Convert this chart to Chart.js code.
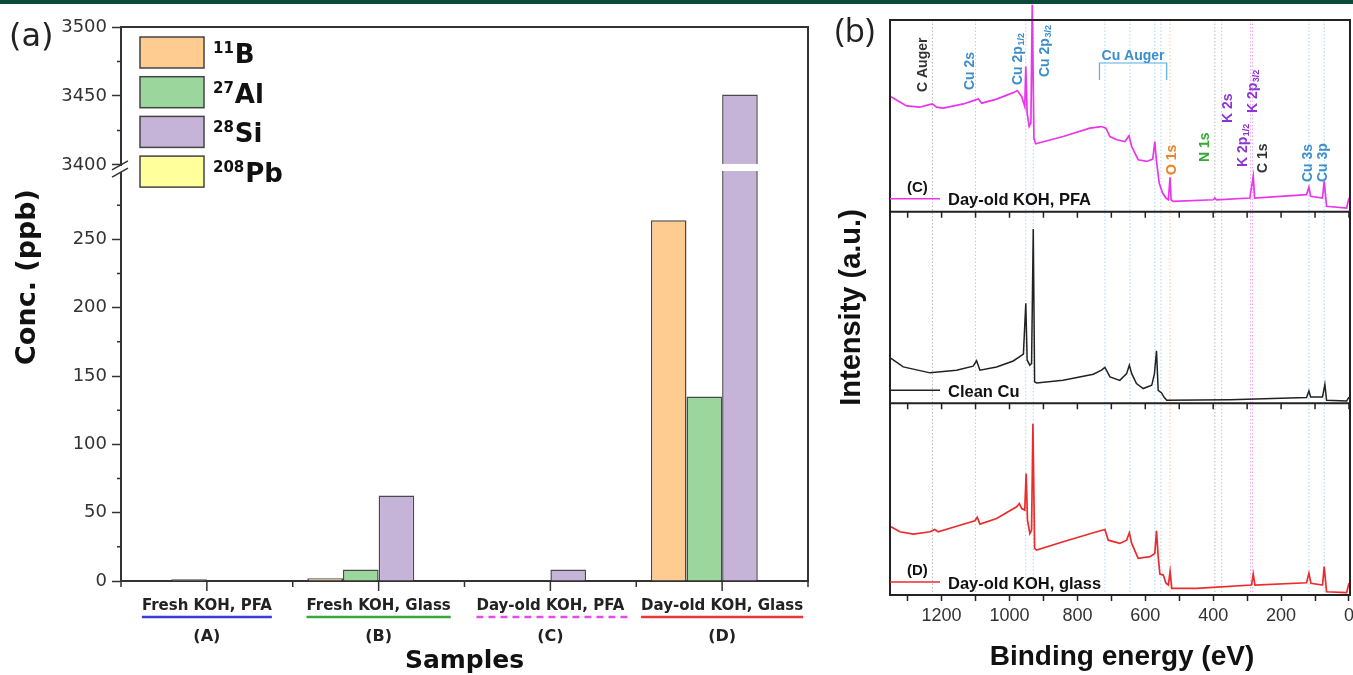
<!DOCTYPE html>
<html>
<head>
<meta charset="utf-8">
<script src="https://cdn.jsdelivr.net/npm/chart.js@4.4.1/dist/chart.umd.min.js"></script>
<style>
  html, body { margin: 0; padding: 0; background: #fff; }
  body { width: 1353px; height: 675px; position: relative; overflow: hidden; }
  #topbar { position: absolute; left: 0; top: 0; width: 1353px; height: 4px; background: #0b4a3a; }
  #panelA { position: absolute; left: 0; top: 0; }
  #panelB { position: absolute; left: 830px; top: 0; }
</style>
</head>
<body>
<canvas id="panelA" width="830" height="675"></canvas>
<canvas id="panelB" width="523" height="675"></canvas>
<div id="topbar"></div>
<script>
// ---- panel (a): ICP-MS concentrations ----
const samples = ["Fresh KOH, PFA", "Fresh KOH, Glass", "Day-old KOH, PFA", "Day-old KOH, Glass"];
const sampleCodes = ["(A)", "(B)", "(C)", "(D)"];
const isotopeMass = ["11", "27", "28", "208"];
const isotopeSymbol = ["B", "Al", "Si", "Pb"];
const boron11 = [0, 2, 0, 264];
const aluminium27 = [1.2, 8.5, 0.5, 135];
const silicon28 = [0, 62.5, 8.5, 3451];
const lead208 = [0, 0, 0, 0];
const concTicksMajor = [0, 50, 100, 150, 200, 250, 3400, 3450, 3500];
const concTicksMinor = [25, 75, 125, 175, 225, 275, 3425, 3475];

// ---- panel (b): XPS survey spectra ----
const energyC = [1349,1303,1264,1239,1227,1215,1195,1136,1100,1092,1082,1038,989,977,964,955,952,948,942,937,933,928,923,842,763,729,716,704,684,660,648,640,621,596,578,572,567,559,549,539,532,527,524,518,400,395,390,292,282,278,125,118,113,78,73,66,7,0];
const intensityC = [60.0,55.2,54.5,55.7,56.2,54.5,54.0,56.2,58.3,58.9,56.6,58.7,62.1,63.2,60.0,54.8,75.7,51.4,44.4,46.2,108,38.4,35.4,39.2,43.6,44.4,43.6,39.2,37.5,36.6,39.6,34.0,27.1,26.2,27.4,36.6,26.2,14.9,9.7,7.1,6.2,17.9,6.2,5.4,6.2,7.1,6.2,7.1,18.4,7.1,8.9,12.8,8.0,7.1,15.8,2.8,1.9,7.1];
const energyCu = [1349,1313,1234,1156,1107,1097,1087,1038,989,959,952,948,940,935,930,926,920,842,753,729,719,704,675,655,647,640,626,606,581,573,567,562,552,545,537,351,125,118,113,78,71,66,7,0];
const intensityCu = [23.4,19.0,15.9,17.3,19.4,22.2,17.3,19.0,22.1,25.7,52.2,22.5,19.9,20.8,90.9,11.2,10.6,12.0,15.2,17.3,18.7,13.8,12.0,15.5,19.9,15.5,10.3,7.7,9.4,15.5,27.4,6.8,5.4,3.3,1.6,1.9,3.0,6.5,3.3,3.3,9.9,1.6,1.2,3.3];
const energyD = [1349,1323,1283,1234,1220,1210,1156,1102,1095,1087,1038,979,971,964,955,951,947,940,935,931,926,920,842,753,719,709,675,655,647,640,621,586,572,567,562,557,547,539,532,527,522,449,287,282,277,125,118,112,78,73,66,7,0];
const intensityD = [35.6,33.0,31.8,33.0,34.2,33.0,35.9,38.7,40.5,37.0,39.9,46.0,47.7,45.1,44.3,63.4,39.1,32.1,33.9,89.4,24.3,23.4,27.8,32.5,34.2,28.6,26.9,28.6,32.5,26.9,19.1,20.0,21.7,33.5,20.0,10.9,10.4,6.1,5.2,12.2,3.5,3.5,5.2,10.9,5.2,6.4,11.3,6.1,5.2,14.8,1.7,1.2,6.1];
const energyTicks = [0,100,200,300,400,500,600,700,800,900,1000,1100,1200,1300];
const refLineEnergy = [1227,1100,952,930,719,645,572,554,527,395,375,290,284,118,73];
const peakText = ["C Auger", "Cu 2s", "Cu 2p", "Cu 2p", "O 1s", "N 1s", "K 2s", "K 2p", "K 2p", "C 1s", "Cu 3s", "Cu 3p"];
const peakSub = ["", "", "1/2", "3/2", "", "", "", "1/2", "3/2", "", "", ""];
const peakEnergy = [1255, 1117, 975, 896, 521, 424, 357, 312, 283, 253, 121, 77];
const augerRange = [735, 537];

// styles / layout
const isoColors = ["#fecb90", "#9bd79c", "#c6b3d8", "#ffff9c"];
const underlineColors = ["#3a3ad8", "#3aa83a", "#e84ce8", "#e83838"];
const refLineColors = ["#b8b8b8","#a9d6f2","#a9d6f2","#a9d6f2","#a9d6f2","#a9d6f2","#a9d6f2","#a9d6f2","#f6c59c","#b8b8b8","#b8cde0","#f2a6f2","#f2a6f2","#a9d6f2","#a9d6f2"];
const peakColors = ["#333","#3d8fcc","#3d8fcc","#3d8fcc","#e8842a","#35a835","#8b35d6","#8b35d6","#8b35d6","#333","#3d8fcc","#3d8fcc"];
const peakBottom = [92, 90, 85, 77, 175, 162, 123, 167, 113, 173, 182, 182];

const BREAK_LOW = 300, BREAK_HIGH = 3400;
const LOW_FRAC = 0.740, HIGH_FRAC = 0.249;

class BrokenLinearScale extends Chart.LinearScale {
  getPixelForValue(value) {
    const top = this.top, bottom = this.bottom, h = bottom - top;
    const lowTop = bottom - LOW_FRAC * h;
    const highBottom = top + HIGH_FRAC * h;
    if (value <= BREAK_LOW) return bottom - (value / BREAK_LOW) * (bottom - lowTop);
    if (value >= BREAK_HIGH) return highBottom - (value - BREAK_HIGH) / (this.max - BREAK_HIGH) * (highBottom - top);
    return lowTop - (value - BREAK_LOW) / (BREAK_HIGH - BREAK_LOW) * (lowTop - highBottom);
  }
  getValueForPixel(pixel) {
    const top = this.top, bottom = this.bottom, h = bottom - top;
    const lowTop = bottom - LOW_FRAC * h;
    const highBottom = top + HIGH_FRAC * h;
    if (pixel >= lowTop) return (bottom - pixel) / (bottom - lowTop) * BREAK_LOW;
    if (pixel <= highBottom) return BREAK_HIGH + (highBottom - pixel) / (highBottom - top) * (this.max - BREAK_HIGH);
    return BREAK_LOW + (lowTop - pixel) / (lowTop - highBottom) * (BREAK_HIGH - BREAK_LOW);
  }
}
BrokenLinearScale.id = 'brokenLinear';
BrokenLinearScale.defaults = Chart.LinearScale.defaults;
Chart.register(BrokenLinearScale);

const panelAPlugin = {
  id: 'panelADecor',
  afterDraw(chart) {
    const { ctx, chartArea: a, scales: { x, y } } = chart;
    const yHi = y.getPixelForValue(BREAK_HIGH), yLo = y.getPixelForValue(BREAK_LOW);
    ctx.save();
    // break band across the tall bar and the axis
    ctx.fillStyle = '#fff';
    ctx.fillRect(a.left + 2, yHi - 1, a.right - a.left - 4, yLo - yHi + 1);
    ctx.fillRect(a.left - 3, yHi + 1, 6, yLo - yHi);
    ctx.strokeStyle = '#333';
    ctx.lineWidth = 1.5;
    ctx.beginPath();
    ctx.moveTo(a.left - 9, yHi + 5); ctx.lineTo(a.left + 7, yHi - 4);
    ctx.moveTo(a.left - 9, yLo + 6); ctx.lineTo(a.left + 7, yLo - 3);
    ctx.stroke();
    // minor y ticks
    ctx.beginPath();
    concTicksMinor.forEach(v => {
      const py = y.getPixelForValue(v);
      ctx.moveTo(a.left - 4, py); ctx.lineTo(a.left, py);
    });
    ctx.stroke();
    // frame top / right
    ctx.lineWidth = 2;
    ctx.beginPath();
    ctx.moveTo(a.left, a.top); ctx.lineTo(a.right, a.top); ctx.lineTo(a.right, a.bottom);
    ctx.stroke();
    // x ticks: long at centres, short at boundaries
    ctx.lineWidth = 1.5;
    ctx.beginPath();
    const step = (a.right - a.left) / samples.length;
    samples.forEach((s, i) => {
      const cx = x.getPixelForValue(i);
      ctx.moveTo(cx, a.bottom); ctx.lineTo(cx, a.bottom + 10);
    });
    for (let i = 0; i <= samples.length; i++) {
      const bx = a.left + i * step;
      ctx.moveTo(bx, a.bottom); ctx.lineTo(bx, a.bottom + 6);
    }
    ctx.stroke();
    // category labels with coloured underline
    ctx.textAlign = 'center';
    ctx.textBaseline = 'middle';
    samples.forEach((s, i) => {
      const cx = x.getPixelForValue(i);
      ctx.fillStyle = '#222';
      ctx.font = 'bold 15px "DejaVu Sans"';
      ctx.fillText(s, cx, a.bottom + 25);
      const w = ctx.measureText(s).width;
      ctx.strokeStyle = underlineColors[i];
      ctx.lineWidth = 2.4;
      ctx.setLineDash(i === 2 ? [7, 5] : []);
      ctx.beginPath();
      ctx.moveTo(cx - w / 2, a.bottom + 36); ctx.lineTo(cx + w / 2 + (i === 2 ? 8 : 0), a.bottom + 36);
      ctx.stroke();
      ctx.setLineDash([]);
      ctx.font = 'bold 16px "DejaVu Sans"';
      ctx.fillText(sampleCodes[i], cx, a.bottom + 56);
    });
    // axis titles
    ctx.fillStyle = '#111';
    ctx.font = 'bold 25px "DejaVu Sans"';
    ctx.fillText('Samples', (a.left + a.right) / 2, 661);
    ctx.save();
    ctx.translate(28, 277);
    ctx.rotate(-Math.PI / 2);
    ctx.font = 'bold 27px "DejaVu Sans"';
    ctx.fillText('Conc. (ppb)', 0, 0);
    ctx.restore();
    ctx.textAlign = 'left';
    ctx.textBaseline = 'alphabetic';
    ctx.fillStyle = '#222';
    ctx.font = '32px "DejaVu Sans"';
    ctx.fillText('(a)', 9, 46);
    // legend
    isotopeMass.forEach((m, i) => {
      const bx = a.left + 19, by = a.top + 10 + i * 39.7;
      ctx.fillStyle = isoColors[i];
      ctx.fillRect(bx, by, 64, 31);
      ctx.strokeStyle = '#444';
      ctx.lineWidth = 1.5;
      ctx.strokeRect(bx, by, 64, 31);
      ctx.fillStyle = '#111';
      ctx.font = 'bold 15px "DejaVu Sans"';
      ctx.fillText(m, bx + 73, by + 16);
      const mw = ctx.measureText(m).width;
      ctx.font = 'bold 26px "DejaVu Sans"';
      ctx.fillText(isotopeSymbol[i], bx + 74 + mw, by + 26);
    });
    ctx.restore();
  }
};

new Chart(document.getElementById('panelA'), {
  type: 'bar',
  data: {
    labels: samples,
    datasets: [boron11, aluminium27, silicon28, lead208].map((vals, i) => ({
      label: isotopeMass[i] + isotopeSymbol[i],
      data: vals,
      backgroundColor: isoColors[i],
      borderColor: '#4a4a4a',
      borderWidth: 1.5
    }))
  },
  options: {
    responsive: false,
    animation: false,
    layout: { padding: { left: 0, right: 22, top: 27, bottom: 0 } },
    datasets: { bar: { categoryPercentage: 0.83, barPercentage: 1 } },
    plugins: { legend: { display: false }, tooltip: { enabled: false } },
    scales: {
      x: {
        grid: { display: false },
        border: { display: true, color: '#333', width: 2 },
        ticks: { display: false },
        afterFit: s => { s.height = 94; }
      },
      y: {
        type: 'brokenLinear',
        min: 0,
        max: 3500,
        afterBuildTicks: s => { s.ticks = concTicksMajor.map(v => ({ value: v })); },
        afterFit: s => { s.width = 121; },
        grid: { drawOnChartArea: false, tickLength: 9, tickWidth: 1.5, tickColor: '#333' },
        border: { color: '#333', width: 2 },
        ticks: { autoSkip: false, padding: 5, color: '#333', font: { family: 'DejaVu Sans', size: 18 }, callback: v => String(v) }
      }
    }
  },
  plugins: [panelAPlugin]
});

function drawRotatedLabel(ctx, text, sub, x, yBottom, color) {
  ctx.save();
  ctx.translate(x, yBottom);
  ctx.rotate(-Math.PI / 2);
  ctx.fillStyle = color;
  ctx.textAlign = 'left';
  ctx.textBaseline = 'middle';
  ctx.font = 'bold 14px "Liberation Sans"';
  ctx.fillText(text, 0, 0);
  if (sub) {
    const w = ctx.measureText(text).width;
    ctx.font = 'bold 9px "Liberation Sans"';
    ctx.fillText(sub, w + 0.5, 3.5);
  }
  ctx.restore();
}

const panelBPlugin = {
  id: 'panelBDecor',
  beforeDatasetsDraw(chart) {
    const { ctx, chartArea: a, scales: { x } } = chart;
    ctx.save();
    ctx.lineWidth = 1;
    ctx.setLineDash([1.5, 2]);
    refLineEnergy.forEach((e, i) => {
      const px = x.getPixelForValue(e);
      ctx.strokeStyle = refLineColors[i];
      ctx.beginPath();
      ctx.moveTo(px, a.top); ctx.lineTo(px, a.bottom);
      ctx.stroke();
    });
    ctx.restore();
  },
  afterDraw(chart) {
    const { ctx, chartArea: a, scales: { x, yD } } = chart;
    ctx.save();
    ctx.strokeStyle = '#222';
    ctx.lineWidth = 2;
    ctx.strokeRect(a.left, a.top, a.right - a.left, a.bottom - a.top);
    const bands = [yD.getPixelForValue(200), yD.getPixelForValue(100)];
    ctx.beginPath();
    bands.forEach(by => { ctx.moveTo(a.left, by); ctx.lineTo(a.right, by); });
    ctx.stroke();
    ctx.lineWidth = 1.5;
    ctx.beginPath();
    bands.forEach(by => {
      energyTicks.forEach(v => {
        const px = x.getPixelForValue(v);
        ctx.moveTo(px, by); ctx.lineTo(px, by + 6);
      });
    });
    ctx.stroke();
    // peak labels
    peakText.forEach((t, i) => {
      drawRotatedLabel(ctx, t, peakSub[i], x.getPixelForValue(peakEnergy[i]), peakBottom[i], peakColors[i]);
    });
    // Cu Auger bracket
    const ax1 = x.getPixelForValue(augerRange[0]), ax2 = x.getPixelForValue(augerRange[1]);
    ctx.strokeStyle = '#5aaee0';
    ctx.lineWidth = 1.2;
    ctx.beginPath();
    ctx.moveTo(ax1, 80); ctx.lineTo(ax1, 63); ctx.lineTo(ax2, 63); ctx.lineTo(ax2, 80);
    ctx.stroke();
    ctx.fillStyle = '#3d8fcc';
    ctx.font = 'bold 14px "Liberation Sans"';
    ctx.textAlign = 'center';
    ctx.textBaseline = 'alphabetic';
    ctx.fillText('Cu Auger', (ax1 + ax2) / 2, 60);
    // in-plot legends
    const legendBottoms = [bands[0], bands[1], a.bottom];
    const legendText = ['Day-old KOH, PFA', 'Clean Cu', 'Day-old KOH, glass'];
    const legendCode = ['(C)', '', '(D)'];
    legendBottoms.forEach((bb, i) => {
      const ds = chart.data.datasets[i];
      ctx.strokeStyle = ds.borderColor;
      ctx.lineWidth = 1.5;
      ctx.beginPath();
      ctx.moveTo(a.left, bb - 13); ctx.lineTo(a.left + 50, bb - 13);
      ctx.stroke();
      ctx.fillStyle = '#111';
      ctx.textAlign = 'left';
      ctx.textBaseline = 'middle';
      ctx.font = 'bold 16.5px "Liberation Sans"';
      ctx.fillText(legendText[i], a.left + 58, bb - 11);
      if (legendCode[i]) {
        ctx.font = 'bold 15px "Liberation Sans"';
        ctx.fillText(legendCode[i], a.left + 17, bb - 24);
      }
    });
    // titles
    ctx.fillStyle = '#111';
    ctx.textAlign = 'center';
    ctx.textBaseline = 'middle';
    ctx.font = 'bold 28px "Liberation Sans"';
    ctx.fillText('Binding energy (eV)', 292, 657);
    ctx.save();
    ctx.translate(22, (a.top + a.bottom) / 2);
    ctx.rotate(-Math.PI / 2);
    ctx.font = 'bold 29px "Liberation Sans"';
    ctx.fillText('Intensity (a.u.)', 0, 0);
    ctx.restore();
    ctx.textAlign = 'left';
    ctx.textBaseline = 'alphabetic';
    ctx.fillStyle = '#222';
    ctx.font = '33px "Open Sans"';
    ctx.fillText('(b)', 5, 42);
    ctx.restore();
  }
};

const toPoints = (xs, ys) => xs.map((e, i) => ({ x: e, y: ys[i] }));

new Chart(document.getElementById('panelB'), {
  type: 'line',
  data: {
    datasets: [
      { label: 'Day-old KOH, PFA', data: toPoints(energyC, intensityC), yAxisID: 'yC', borderColor: '#ea36ea', borderWidth: 1.7, pointRadius: 0, clip: false },
      { label: 'Clean Cu', data: toPoints(energyCu, intensityCu), yAxisID: 'yCu', borderColor: '#222', borderWidth: 1.5, pointRadius: 0 },
      { label: 'Day-old KOH, glass', data: toPoints(energyD, intensityD), yAxisID: 'yD', borderColor: '#ec2c2c', borderWidth: 1.7, pointRadius: 0 }
    ]
  },
  options: {
    responsive: false,
    animation: false,
    layout: { padding: { left: 60, right: 3, top: 20, bottom: 0 } },
    plugins: { legend: { display: false }, tooltip: { enabled: false } },
    scales: {
      x: {
        type: 'linear',
        reverse: true,
        min: -3,
        max: 1352,
        afterBuildTicks: s => { s.ticks = energyTicks.map(v => ({ value: v })); },
        afterFit: s => { s.height = 80; s.paddingLeft = 0; s.paddingRight = 0; },
        grid: { drawOnChartArea: false, tickLength: 6, tickWidth: 1.5, tickColor: '#222' },
        border: { color: '#222', width: 2 },
        ticks: { autoSkip: false, maxRotation: 0, padding: 4, color: '#333', font: { family: 'Liberation Sans', size: 18 }, callback: v => (v % 200 === 0 ? String(v) : '') }
      },
      yC: { axis: 'y', type: 'linear', display: false, min: -200, max: 100 },
      yCu: { axis: 'y', type: 'linear', display: false, min: -100, max: 200 },
      yD: { axis: 'y', type: 'linear', display: false, min: 0, max: 300 }
    }
  },
  plugins: [panelBPlugin]
});
</script>
</body>
</html>
